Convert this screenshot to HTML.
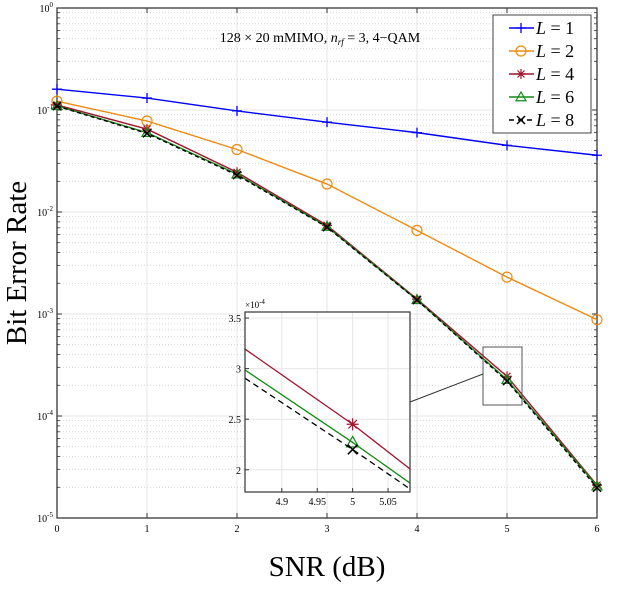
<!DOCTYPE html>
<html><head><meta charset="utf-8"><style>
body{margin:0;background:#fff;}
svg{display:block;font-family:"Liberation Serif",serif;}
</style></head><body>
<svg id="chart" width="640" height="610" viewBox="0 0 640 610" xmlns="http://www.w3.org/2000/svg">
<rect width="640" height="610" fill="#fff"/>
<g id="grid"></g>
<g id="axes"></g>
<g id="series"></g>
<g id="inset"></g>
<text x="320" y="42" font-size="14" text-anchor="middle">128 × 20 mMIMO, <tspan font-style="italic">n</tspan><tspan font-style="italic" font-size="9" dy="3">rf</tspan><tspan dy="-3"> = 3, 4−QAM</tspan></text>
<text transform="translate(26,263) rotate(-90)" font-size="29" text-anchor="middle">Bit Error Rate</text>
<text x="327" y="576" font-size="29" text-anchor="middle">SNR (dB)</text>
<g id="legend"></g>
</svg>
<script>
const snr = [0,1,2,3,4,5,6];
const berL1 = [0.16,0.131,0.098,0.076,0.06,0.045,0.036];
const berL2 = [0.122,0.078,0.041,0.0188,0.0066,0.0023,0.00088];
const berL4 = [0.112,0.065,0.0245,0.0074,0.0014,0.000245,0.000021];
const berL6 = [0.11,0.06,0.0235,0.0072,0.00138,0.000227,0.0000205];
const berL8 = [0.109,0.059,0.023,0.0071,0.00137,0.00022,0.0000198];
const xTicks = [0,1,2,3,4,5,6];
const yExps = [0,-1,-2,-3,-4,-5];
const insetXTicks = ["4.9","4.95","5","5.05"];
const insetYTicks = ["2","2.5","3","3.5"];
const legendLabels = ["1","2","4","6","8"];

const NS="http://www.w3.org/2000/svg";
const X0=57,X1=597,Y0=8,DEC=102;
const sx=v=>X0+(v-0)/6*(X1-X0);
const sy=v=>Y0+(-Math.log10(v))*DEC;
function mk(p,t,a){const e=document.createElementNS(NS,t);for(const k in a)e.setAttribute(k,a[k]);p.appendChild(e);return e;}
const grid=document.getElementById('grid'),axes=document.getElementById('axes'),ser=document.getElementById('series');

for(const t of xTicks){const l=mk(grid,'line',{x1:sx(t),x2:sx(t),y1:Y0,y2:Y0+5*DEC,stroke:'#e4e4e4','stroke-width':1});
}
for(const e of yExps){
  const y=sy(Math.pow(10,e));
  const l=mk(grid,'line',{x1:X0,x2:X1,y1:y,y2:y,stroke:'#e4e4e4','stroke-width':1});
  
  if(e>-5)for(let m=2;m<=9;m++){const ym=sy(m*Math.pow(10,e-1));
    const d=mk(grid,'line',{x1:X0,x2:X1,y1:ym,y2:ym,stroke:'#cfcfcf','stroke-width':0.8,'stroke-dasharray':'1,2'});
    
    mk(axes,'line',{x1:X0,x2:X0+3,y1:ym,y2:ym,stroke:'#333','stroke-width':0.8});
    mk(axes,'line',{x1:X1,x2:X1-3,y1:ym,y2:ym,stroke:'#333','stroke-width':0.8});}
}
const box=mk(axes,'rect',{x:X0,y:Y0,width:X1-X0,height:5*DEC,fill:'none',stroke:'#262626','stroke-width':1.2});

for(const t of xTicks){
  mk(axes,'line',{x1:sx(t),x2:sx(t),y1:Y0+5*DEC,y2:Y0+5*DEC-5,stroke:'#333'});
  mk(axes,'line',{x1:sx(t),x2:sx(t),y1:Y0,y2:Y0+5,stroke:'#333'});
  const tx=mk(axes,'text',{x:sx(t),y:Y0+5*DEC+14,'font-size':10,'text-anchor':'middle'});tx.textContent=t;
  
}
for(const e of yExps){const y=sy(Math.pow(10,e));
  mk(axes,'line',{x1:X0,x2:X0+5,y1:y,y2:y,stroke:'#333'});mk(axes,'line',{x1:X1,x2:X1-5,y1:y,y2:y,stroke:'#333'});
  const tx=mk(axes,'text',{x:X0-4,y:y+4,'font-size':10,'text-anchor':'end'});
  
  tx.innerHTML='10<tspan font-size="7" dy="-5">'+e+'</tspan>';
}
function marker(g,type,x,y,c,s){s=s||5;
  if(type==='plus'){mk(g,'path',{d:`M${x-s},${y}H${x+s}M${x},${y-s}V${y+s}`,stroke:c,'stroke-width':1.3,fill:'none'});}
  else if(type==='circle'){mk(g,'circle',{cx:x,cy:y,r:s,stroke:c,'stroke-width':1.2,fill:'none'});}
  else if(type==='star'){mk(g,'path',{d:`M${x-s},${y}H${x+s}M${x},${y-s}V${y+s}M${x-s*.7},${y-s*.7}L${x+s*.7},${y+s*.7}M${x-s*.7},${y+s*.7}L${x+s*.7},${y-s*.7}`,stroke:c,'stroke-width':1.2,fill:'none'});}
  else if(type==='tri'){mk(g,'path',{d:`M${x},${y-s}L${x+s},${y+s*.75}L${x-s},${y+s*.75}Z`,stroke:c,'stroke-width':1.2,fill:'none'});}
  else if(type==='x'){mk(g,'path',{d:`M${x-s*.8},${y-s*.8}L${x+s*.8},${y+s*.8}M${x-s*.8},${y+s*.8}L${x+s*.8},${y-s*.8}`,stroke:c,'stroke-width':1.5,fill:'none'});}
}
const seriesDefs=[
 {name:'series-l1',data:berL1,c:'#0000ff',m:'plus',dash:null},
 {name:'series-l2',data:berL2,c:'#ee8a12',m:'circle',dash:null},
 {name:'series-l4',data:berL4,c:'#a2142f',m:'star',dash:null},
 {name:'series-l6',data:berL6,c:'#138a13',m:'tri',dash:null},
 {name:'series-l8',data:berL8,c:'#000',m:'x',dash:'4,3'}];
for(const s of seriesDefs){
  const g=mk(ser,'g',{});
  const pts=snr.map((x,i)=>sx(x)+','+sy(s.data[i])).join(' ');
  mk(g,'polyline',{points:pts,fill:'none',stroke:s.c,'stroke-width':1.4,'stroke-dasharray':s.dash||'none'});
  snr.forEach((x,i)=>marker(g,s.m,sx(x),sy(s.data[i]),s.c,5));
}
const ins=document.getElementById('inset');
const IX0=245,IX1=410,IY0=312,IY1=492,ixmin=4.848,ixmax=5.081,iymin=1.78,iymax=3.56;
const ix=v=>IX0+(v-ixmin)/(ixmax-ixmin)*(IX1-IX0);
const iy=v=>IY1-(v-iymin)/(iymax-iymin)*(IY1-IY0);
const zr=mk(ins,'rect',{x:483,y:347,width:39,height:58,fill:'none',stroke:'#555','stroke-width':1});

const cn=mk(ins,'line',{x1:IX1,y1:402,x2:483,y2:374,stroke:'#333','stroke-width':1});

mk(ins,'rect',{x:IX0,y:IY0,width:IX1-IX0,height:IY1-IY0,fill:'#fff'});
const defs=mk(ins,'defs',{});const cp=mk(defs,'clipPath',{id:'ic'});mk(cp,'rect',{x:IX0,y:IY0,width:IX1-IX0,height:IY1-IY0});
insetXTicks.forEach(t=>{const x=ix(+t);mk(ins,'line',{x1:x,x2:x,y1:IY0,y2:IY1,stroke:'#e6e6e6'});
  mk(ins,'line',{x1:x,x2:x,y1:IY1,y2:IY1-4,stroke:'#333'});
  const tx=mk(ins,'text',{x:x,y:IY1+13,'font-size':10,'text-anchor':'middle'});tx.textContent=t;
  });
insetYTicks.forEach(t=>{const y=iy(+t);mk(ins,'line',{x1:IX0,x2:IX1,y1:y,y2:y,stroke:'#e6e6e6'});
  mk(ins,'line',{x1:IX0,x2:IX0+4,y1:y,y2:y,stroke:'#333'});
  const tx=mk(ins,'text',{x:IX0-4,y:y+4,'font-size':10,'text-anchor':'end'});tx.textContent=t;
  });
const ie=mk(ins,'text',{x:IX0,y:IY0-4,'font-size':9});ie.innerHTML='×10<tspan font-size="7" dy="-4">-4</tspan>';

const ig=mk(ins,'g',{'clip-path':'url(#ic)'});
function logInterp(d,x){const i=x<5?4:5;
  const l=Math.log10(d[i])+(x-snr[i])*(Math.log10(d[i+1])-Math.log10(d[i]));return Math.pow(10,l);}
for(const s of seriesDefs.slice(2)){
  const g=mk(ig,'g',{});
  const xs=[ixmin,5,ixmax];
  const pts=xs.map(x=>ix(x)+','+iy(logInterp(s.data,x)*1e4));
  mk(g,'polyline',{points:pts.join(' '),fill:'none',stroke:s.c,'stroke-width':1.3,'stroke-dasharray':s.dash?'6,4':'none'});
  marker(g,s.m,ix(5),iy(s.data[5]*1e4),s.c,6);
}
const ib=mk(ins,'rect',{x:IX0,y:IY0,width:IX1-IX0,height:IY1-IY0,fill:'none',stroke:'#333','stroke-width':1.2});

const lg=document.getElementById('legend');
mk(lg,'rect',{x:493,y:15,width:98,height:118,fill:'#fff',stroke:'#444','stroke-width':1});
seriesDefs.forEach((s,i)=>{const y=28+i*23;
  const g=mk(lg,'g',{});
  mk(g,'line',{x1:509,x2:534,y1:y,y2:y,stroke:s.c,'stroke-width':1.4,'stroke-dasharray':s.dash?'5,4':'none'});
  marker(g,s.m,521,y,s.c,5);
  const t=mk(g,'text',{x:536,y:y+6,'font-size':18});t.innerHTML='<tspan font-style="italic">L</tspan> = '+legendLabels[i];
});
</script>
</body></html>
